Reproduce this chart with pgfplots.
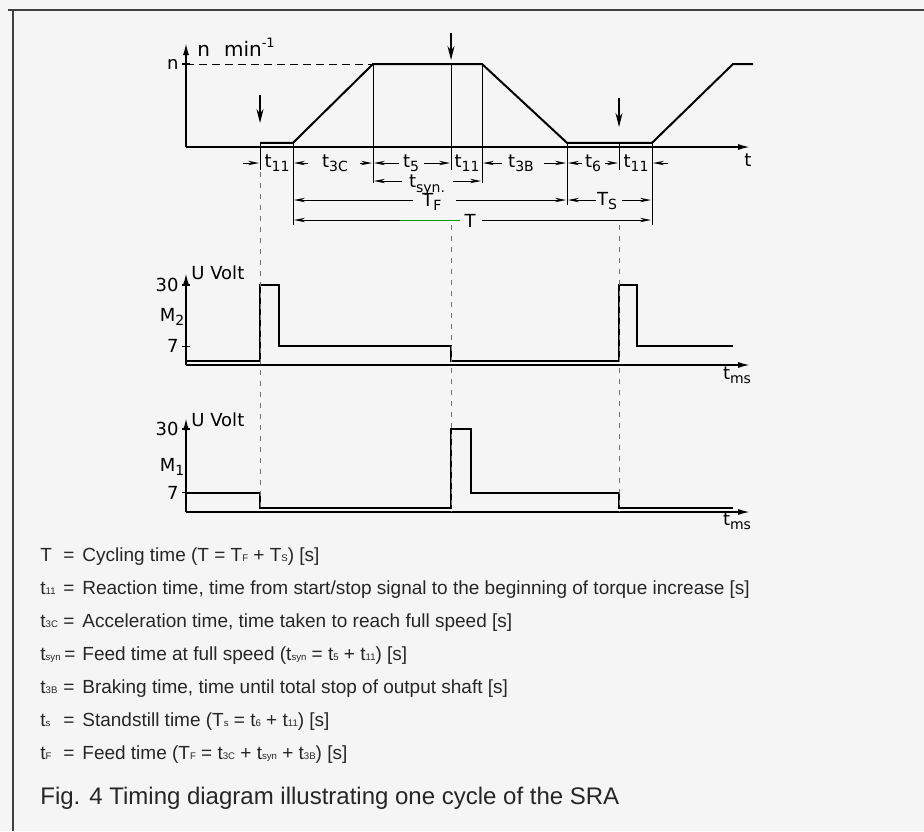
\documentclass[border=0pt]{standalone}
\usepackage{pgfplots}
\pgfplotsset{compat=1.18}
\usepackage{fontspec}
\setmainfont{Liberation Sans}
\newfontfamily\diag{DejaVu Sans}
\usetikzlibrary{arrows.meta}

% small subscripts for the diagram and for the legend
\newcommand{\sub}[1]{\raisebox{-0.45ex}{\fontsize{7}{7}\selectfont #1}}
\newcommand{\lsub}[1]{{\fontsize{4.8}{5}\selectfont #1}}
\newcommand{\dfont}{\diag\fontsize{9}{10}\selectfont}

\pgfplotsset{
  timing/.style={
    scale only axis, width=282pt, xmin=0, xmax=564,
    axis lines=left, enlargelimits=false, clip=false,
    axis line style={line width=0.8pt, -{Latex[length=6pt,width=3pt]}},
    xtick=\empty, tick align=center, major tick length=4pt,
    every tick/.style={line width=0.6pt, black},
    yticklabel style={font=\dfont, inner sep=1.5pt},
    /pgf/number format/assume math mode=true,
  },
  sig/.style={line width=1pt, black, no marks},
}

\begin{document}
\begin{tikzpicture}
\path[use as bounding box, fill=black!4] (0,0) rectangle (462pt,-415.5pt);

% speed n over time
\begin{axis}[timing, height=52pt, ymin=0, ymax=1.253,
  at={(93pt,-73.5pt)}, anchor=south west,
  ytick={1}, yticklabels={n}]
\addplot[sig] coordinates {(74,0.05) (107,0.05) (187,1) (296,1) (381,0.05) (466,0.05) (547,1) (567,1)};
\end{axis}

% valve M2
\begin{axis}[timing, height=46pt, ymin=0, ymax=34.5,
  at={(93pt,-182.5pt)}, anchor=south west, ytick={7,30}]
\addplot[sig] coordinates {(0,1.5) (74,1.5) (74,30) (93,30) (93,7) (265,7) (265,1.5) (433,1.5) (433,30) (451,30) (451,7) (547,7)};
\end{axis}

% valve M1
\begin{axis}[timing, height=47pt, ymin=0, ymax=34,
  at={(93pt,-256pt)}, anchor=south west, ytick={7,30}]
\addplot[sig] coordinates {(0,7) (74,7) (74,1.5) (265,1.5) (265,30) (285,30) (285,7) (433,7) (433,1.5) (547,1.5)};
\end{axis}

% annotations, in pixel units of the page
\begin{scope}[x=0.5pt, y=-0.5pt,
  dim/.style={line width=0.5pt, -{Stealth[length=5.5pt,width=2.2pt]}},
  sig arrow/.style={line width=0.6pt, -{Stealth[length=7pt,width=3.5pt]}},
  every node/.style={font=\dfont, inner sep=0pt}]
  % frame
  \draw[black!75, line width=0.8pt] (8,10) -- (924,10);
  \draw[black!75, line width=0.8pt] (13,10) -- (13,831);

  % axis labels
  \node[anchor=west] at (197,47) {\fontsize{10}{11}\selectfont n\hspace{0.7em}min\raisebox{0.8ex}{\fontsize{6.5}{7}\selectfont -1}};
  \node at (748,160) {t};
  \node[anchor=west] at (191,273) {U Volt};
  \node[anchor=west] at (191,420) {U Volt};
  \node at (172,317) {M\sub{2}};
  \node at (172,467) {M\sub{1}};
  \node at (737,375) {t\sub{ms}};
  \node at (737,521) {t\sub{ms}};

  % full speed level
  \draw[line width=0.5pt, dash pattern=on 4pt off 2.5pt] (186,64) -- (373,64);

  % start / stop signals
  \draw[sig arrow] (260,95) -- (260,123);
  \draw[sig arrow] (451,33) -- (451,60);
  \draw[sig arrow] (619,98) -- (619,127);

  % solid extension lines
  \draw[line width=0.5pt] (293,143) -- (293,225);
  \draw[line width=0.5pt] (373,64) -- (373,183);
  \draw[line width=0.5pt] (482,64) -- (482,183);
  \draw[line width=0.5pt] (567,143) -- (567,205);
  \draw[line width=0.5pt] (652,143) -- (652,225);
  \draw[line width=0.5pt] (451,64) -- (451,170);
  \draw[line width=0.5pt] (260,143) -- (260,170);
  \draw[line width=0.5pt] (619,143) -- (619,170);

  % dashed lines through the valve signals
  \draw[black!55, line width=0.5pt, dash pattern=on 2.5pt off 3pt] (260,172) -- (260,512);
  \draw[black!55, line width=0.5pt, dash pattern=on 2.5pt off 3pt] (451,225) -- (451,512);
  \draw[black!55, line width=0.5pt, dash pattern=on 2.5pt off 3pt] (619,225) -- (619,512);

  % row 1
  \draw[dim] (243,163) -- (259,163);
  \node at (277,163) {t\sub{11}};
  \draw[dim] (308,163) -- (294,163);
  \node at (335,163) {t\sub{3C}};
  \draw[dim] (360,163) -- (372,163);
  \draw[dim] (399,163) -- (374,163);
  \node at (411,163) {t\sub{5}};
  \draw[dim] (424,163) -- (450,163);
  \node at (467,163) {t\sub{11}};
  \draw[dim] (502,163) -- (483,163);
  \node at (521,163) {t\sub{3B}};
  \draw[dim] (544,163) -- (566,163);
  \draw[dim] (582,163) -- (568,163);
  \node at (593,163) {t\sub{6}};
  \draw[dim] (605,163) -- (618,163);
  \node at (636,163) {t\sub{11}};
  \draw[dim] (668,163) -- (653,163);

  % row 2
  \draw[dim] (402,181) -- (374,181);
  \node at (427,185) {t\sub{syn.}};
  \draw[dim] (453,181) -- (481,181);

  % row 3
  \draw[dim] (413,200) -- (294,200);
  \node at (432,202) {T\sub{F}};
  \draw[dim] (456,200) -- (566,200);
  \draw[dim] (596,200) -- (568,200);
  \node at (607,201) {T\sub{S}};
  \draw[dim] (622,200) -- (651,200);

  % row 4
  \draw[dim] (460,220) -- (294,220);
  \draw[green!60!black, line width=0.5pt] (400,220) -- (460,220);
  \node at (470,221) {T};
  \draw[dim] (482,220) -- (651,220);
\end{scope}

% legend and caption
\begin{scope}[x=0.5pt, y=-0.5pt,
  every node/.style={anchor=base west, inner sep=0pt, text=black!85,
    font=\fontsize{9.5}{11}\selectfont}]
  \node at (40,561) {T};
  \node at (40,594) {t\lsub{11}};
  \node at (40,627) {t\lsub{3C}};
  \node at (40,660) {t\lsub{syn}};
  \node at (40,693) {t\lsub{3B}};
  \node at (40,726) {t\lsub{s}};
  \node at (40,759) {t\lsub{F}};
  \foreach \yy in {561,594,627,693,726,759} \node at (63,\yy) {=};
  \node at (64,660) {=};
  \node at (82,561) {Cycling time (T = T\lsub{F} + T\lsub{S}) [s]};
  \node at (82,594) {Reaction time, time from start/stop signal to the beginning of torque increase [s]};
  \node at (82,627) {Acceleration time, time taken to reach full speed [s]};
  \node at (82,660) {Feed time at full speed (t\lsub{syn} = t\lsub{5} + t\lsub{11}) [s]};
  \node at (82,693) {Braking time, time until total stop of output shaft [s]};
  \node at (82,726) {Standstill time (T\lsub{s} = t\lsub{6} + t\lsub{11}) [s]};
  \node at (82,759) {Feed time (T\lsub{F} = t\lsub{3C} + t\lsub{syn} + t\lsub{3B}) [s]};
  \node[font=\fontsize{12}{14}\selectfont] at (40,804) {Fig. 4 Timing diagram illustrating one cycle of the SRA};
\end{scope}
\end{tikzpicture}
\end{document}
